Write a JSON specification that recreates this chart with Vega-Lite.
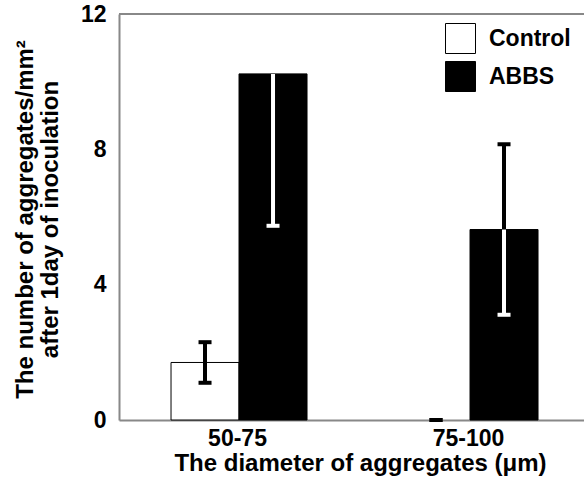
{
  "$schema": "https://vega.github.io/schema/vega-lite/v6.json",
  "autosize": "none",
  "padding": {"left": 119, "top": 14, "right": 0, "bottom": 63},
  "width": 465,
  "height": 406,
  "background": "white",
  "config": {
    "view": {"stroke": null},
    "font": "Liberation Sans"
  },
  "data": {
    "values": [
      {"size": "50-75", "group": "Control", "mean": 1.7, "lo": 1.1, "hi": 2.3},
      {"size": "50-75", "group": "ABBS", "mean": 10.23, "lo": 5.74, "hi": 14.72},
      {"size": "75-100", "group": "Control", "mean": 0, "lo": 0, "hi": 0},
      {"size": "75-100", "group": "ABBS", "mean": 5.63, "lo": 3.11, "hi": 8.15}
    ]
  },
  "layer": [
    {
      "encoding": {
        "x": {
          "field": "size", "type": "nominal", "sort": ["50-75", "75-100"],
          "scale": {"paddingInner": 0, "paddingOuter": 0.0065, "align": 1},
          "axis": {
            "title": "The diameter of aggregates (μm)",
            "labelAngle": 0, "ticks": false,
            "domainColor": "#888888", "domainWidth": 2,
            "labelFont": "Liberation Sans", "labelFontWeight": "bold", "labelFontSize": 23, "labelColor": "black",
            "labelPadding": 7,
            "titleFont": "Liberation Sans", "titleFontWeight": "bold", "titleFontSize": 24, "titleColor": "black",
            "titlePadding": 1, "titleX": 241
          }
        },
        "xOffset": {
          "field": "group", "type": "nominal", "sort": ["Control", "ABBS"],
          "scale": {"paddingInner": 0, "paddingOuter": 0.6985, "align": 0.516}
        }
      },
      "layer": [
        {
          "transform": [{"filter": "datum.mean > 0"}],
          "mark": {"type": "bar", "stroke": "black", "strokeWidth": 1},
          "encoding": {
            "y": {
              "field": "mean", "type": "quantitative",
              "scale": {"domain": [0, 12], "nice": false},
              "axis": {
                "values": [0, 4, 8, 12], "grid": false, "ticks": false,
                "domainColor": "#888888", "domainWidth": 2,
                "labelFont": "Liberation Sans", "labelFontWeight": "bold", "labelFontSize": 23, "labelColor": "black",
                "labelPadding": 13,
                "title": ["The number of aggregates/mm²", "after 1day of inoculation"],
                "titleFont": "Liberation Sans", "titleFontWeight": "bold", "titleFontSize": 24, "titleColor": "black",
                "titleLineHeight": 25,
                "titleX": -106, "titleY": 205, "titleBaseline": "top", "titleAlign": "center", "titleAngle": -90
              }
            },
            "color": {
              "field": "group", "type": "nominal",
              "scale": {"domain": ["Control", "ABBS"], "range": ["white", "black"]},
              "legend": {
                "title": null, "orient": "none", "legendX": 326, "legendY": 9,
                "symbolType": "square", "symbolSize": 900, "symbolStrokeColor": "black", "symbolStrokeWidth": 1,
                "labelFont": "Liberation Sans", "labelFontWeight": "bold", "labelFontSize": 23, "labelColor": "black",
                "labelOffset": 13, "rowPadding": 3
              }
            }
          }
        },
        {
          "transform": [{"filter": "datum.hi <= 12"}],
          "mark": {"type": "rule", "strokeWidth": 4, "color": "black"},
          "encoding": {
            "y": {"field": "mean", "type": "quantitative"},
            "y2": {"field": "hi"}
          }
        },
        {
          "transform": [{"filter": "datum.hi <= 12"}],
          "mark": {"type": "tick", "size": 13, "thickness": 4, "color": "black", "opacity": 1},
          "encoding": {
            "y": {"field": "hi", "type": "quantitative"}
          }
        },
        {
          "mark": {"type": "rule", "strokeWidth": 4},
          "encoding": {
            "y": {"field": "lo", "type": "quantitative"},
            "y2": {"field": "mean"},
            "color": {"condition": {"test": "datum.group === 'ABBS'", "value": "white"}, "value": "black"}
          }
        },
        {
          "mark": {"type": "tick", "size": 13, "thickness": 4, "opacity": 1},
          "encoding": {
            "y": {"field": "lo", "type": "quantitative"},
            "color": {"condition": {"test": "datum.group === 'ABBS'", "value": "white"}, "value": "black"}
          }
        }
      ]
    },
    {
      "mark": {"type": "rule", "color": "#888888", "strokeWidth": 2},
      "encoding": {
        "y": {"datum": 12, "type": "quantitative"}
      }
    }
  ]
}
